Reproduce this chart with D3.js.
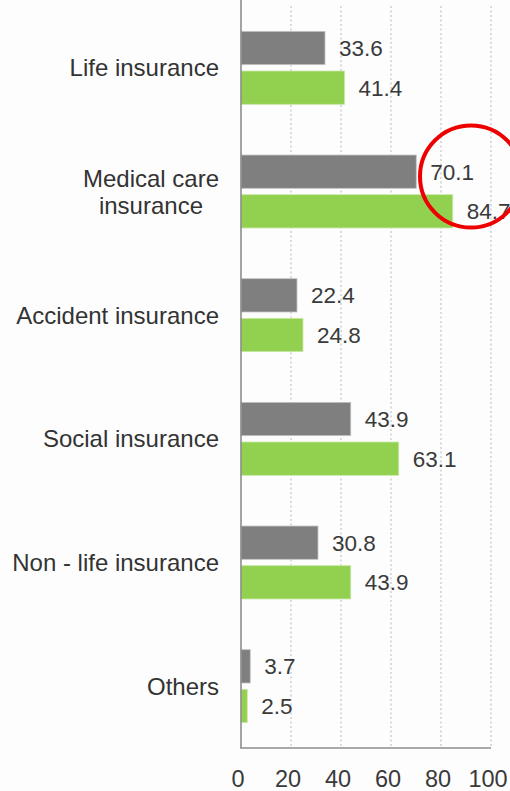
<!DOCTYPE html>
<html>
<head>
<meta charset="utf-8">
<script src="https://cdn.jsdelivr.net/npm/d3@7"></script>
<style>
  html, body { margin: 0; padding: 0; background: #fdfdfd; }
  svg { display: block; font-family: "Liberation Sans", Arial, sans-serif; }
</style>
</head>
<body>
<svg id="chart" width="510" height="791"></svg>
<script>
// Insurance types and the two compared series
const categories = [
  ["Life insurance"],
  ["Medical care", "insurance"],
  ["Accident insurance"],
  ["Social insurance"],
  ["Non - life insurance"],
  ["Others"]
];
const seriesA = [33.6, 70.1, 22.4, 43.9, 30.8, 3.7];   // gray bars
const seriesB = [41.4, 84.7, 24.8, 63.1, 43.9, 2.5];   // green bars
const xTicks = [0, 20, 40, 60, 80, 100];
const highlightIndex = 1;   // group ringed in red

const svg = d3.select("#chart");
const plotLeft = 241, plotRight = 491, plotTop = 6, plotBottom = 748;

const x = d3.scaleLinear().domain([0, 100]).range([plotLeft, plotRight]);
const y = d3.scaleBand()
  .domain(d3.range(categories.length))
  .range([plotTop, plotBottom]);
const sub = d3.scaleBand()
  .domain(["a", "b"])
  .range([-y.bandwidth() * 0.295, y.bandwidth() * 0.295])
  .paddingInner(0.16);

// dotted vertical gridlines
svg.append("g")
  .selectAll("line")
  .data(xTicks.filter(d => d > 0))
  .join("line")
  .attr("x1", d => x(d)).attr("x2", d => x(d))
  .attr("y1", plotTop).attr("y2", plotBottom)
  .attr("stroke", "#c9c9c9")
  .attr("stroke-width", 1.3)
  .attr("stroke-dasharray", "2,2.5");

// bars
const groups = svg.append("g")
  .selectAll("g")
  .data(categories.map((c, i) => ({ i, a: seriesA[i], b: seriesB[i] })))
  .join("g")
  .attr("transform", d => `translate(0,${y(d.i) + y.bandwidth() / 2})`);

const barSpecs = [
  { key: "a", fill: "#7f7f7f", stroke: "#c4c4c4" },
  { key: "b", fill: "#92d050", stroke: "#c9e8a6" }
];

barSpecs.forEach(s => {
  groups.append("rect")
    .attr("x", x(0))
    .attr("y", sub(s.key))
    .attr("width", d => x(d[s.key]) - x(0))
    .attr("height", sub.bandwidth())
    .attr("fill", s.fill)
    .attr("stroke", s.stroke)
    .attr("stroke-width", 0.8);

  groups.append("text")
    .attr("x", d => x(d[s.key]) + 14)
    .attr("y", sub(s.key) + sub.bandwidth() / 2)
    .attr("dy", "0.36em")
    .attr("font-size", 22.5)
    .attr("fill", "#3a3a3a")
    .text(d => d3.format(".1f")(d[s.key]));
});

// axis lines
svg.append("line")
  .attr("x1", x(0)).attr("x2", x(0))
  .attr("y1", 0).attr("y2", plotBottom)
  .attr("stroke", "#8c8c8c").attr("stroke-width", 1.6);
svg.append("line")
  .attr("x1", x(0) - 0.8).attr("x2", x(100))
  .attr("y1", plotBottom).attr("y2", plotBottom)
  .attr("stroke", "#8c8c8c").attr("stroke-width", 1.6);

// x tick labels
svg.append("g")
  .selectAll("text")
  .data(xTicks)
  .join("text")
  .attr("x", d => x(d) - 3)
  .attr("y", 787)
  .attr("text-anchor", "middle")
  .attr("font-size", 23.5)
  .attr("fill", "#3a3a3a")
  .text(d => d);

// category labels: block right-aligned, lines centred within the block
const labelRight = 219;
const lineH = 27;
categories.forEach((lines, i) => {
  const g = svg.append("g");
  const cy = y(i) + y.bandwidth() / 2;
  const texts = lines.map((line, k) =>
    g.append("text")
      .attr("font-size", 24)
      .attr("fill", "#333333")
      .attr("text-anchor", "middle")
      .attr("y", cy + (k - (lines.length - 1) / 2) * lineH)
      .attr("dy", "0.36em")
      .text(line));
  const w = d3.max(texts, t => t.node().getComputedTextLength());
  texts.forEach(t => t.attr("x", labelRight - w / 2));
});

// red ring highlighting the medical care values
const hc = y(highlightIndex) + y.bandwidth() / 2;
svg.append("ellipse")
  .attr("cx", x(92))
  .attr("cy", hc - 15)
  .attr("rx", x(20.4) - x(0))
  .attr("ry", x(20.4) - x(0))
  .attr("fill", "none")
  .attr("stroke", "#ee0000")
  .attr("stroke-width", 4);
</script>
</body>
</html>
